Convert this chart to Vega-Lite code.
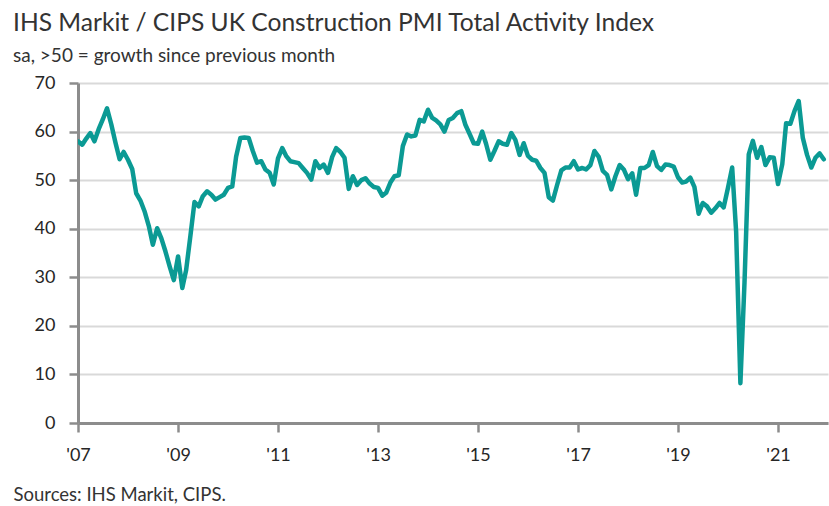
{
"$schema": "https://vega.github.io/schema/vega-lite/v6.json",
"width": 750, "height": 340,
"autosize": "none",
"padding": {"left": 78, "top": 83, "right": 1, "bottom": 83},
"background": "white",
"config": {"view": {"stroke": null}},
"title": {"text": "IHS Markit / CIPS UK Construction PMI Total Activity Index", "subtitle": "sa, >50 = growth since previous month", "anchor": "start", "frame": "group", "dx": -65, "offset": 7, "font": "Lato", "fontSize": 24.6, "fontWeight": "normal", "color": "#333333", "subtitleFont": "Lato", "subtitleFontSize": 19, "subtitleColor": "#333333", "subtitlePadding": 10},
"datasets": {"pmi": [
{"date":"2007-01-01","v":58.0},{"date":"2007-02-01","v":57.3},{"date":"2007-03-01","v":58.5},{"date":"2007-04-01","v":59.7},{"date":"2007-05-01","v":58.0},{"date":"2007-06-01","v":60.5},{"date":"2007-07-01","v":62.5},{"date":"2007-08-01","v":64.8},{"date":"2007-09-01","v":61.5},{"date":"2007-10-01","v":57.8},{"date":"2007-11-01","v":54.3},{"date":"2007-12-01","v":55.8},
{"date":"2008-01-01","v":54.2},{"date":"2008-02-01","v":52.3},{"date":"2008-03-01","v":47.3},{"date":"2008-04-01","v":45.8},{"date":"2008-05-01","v":43.6},{"date":"2008-06-01","v":40.6},{"date":"2008-07-01","v":36.7},{"date":"2008-08-01","v":40.1},{"date":"2008-09-01","v":38.0},{"date":"2008-10-01","v":35.3},{"date":"2008-11-01","v":32.2},{"date":"2008-12-01","v":29.4},
{"date":"2009-01-01","v":34.3},{"date":"2009-02-01","v":27.8},{"date":"2009-03-01","v":31.5},{"date":"2009-04-01","v":38.5},{"date":"2009-05-01","v":45.5},{"date":"2009-06-01","v":44.6},{"date":"2009-07-01","v":46.7},{"date":"2009-08-01","v":47.7},{"date":"2009-09-01","v":47.0},{"date":"2009-10-01","v":46.0},{"date":"2009-11-01","v":46.5},{"date":"2009-12-01","v":47.0},
{"date":"2010-01-01","v":48.4},{"date":"2010-02-01","v":48.7},{"date":"2010-03-01","v":54.8},{"date":"2010-04-01","v":58.7},{"date":"2010-05-01","v":58.8},{"date":"2010-06-01","v":58.7},{"date":"2010-07-01","v":56.0},{"date":"2010-08-01","v":53.6},{"date":"2010-09-01","v":53.9},{"date":"2010-10-01","v":52.2},{"date":"2010-11-01","v":51.5},{"date":"2010-12-01","v":49.1},
{"date":"2011-01-01","v":54.5},{"date":"2011-02-01","v":56.6},{"date":"2011-03-01","v":55.0},{"date":"2011-04-01","v":53.9},{"date":"2011-05-01","v":53.7},{"date":"2011-06-01","v":53.5},{"date":"2011-07-01","v":52.5},{"date":"2011-08-01","v":51.5},{"date":"2011-09-01","v":50.1},{"date":"2011-10-01","v":53.9},{"date":"2011-11-01","v":52.5},{"date":"2011-12-01","v":53.2},
{"date":"2012-01-01","v":51.5},{"date":"2012-02-01","v":54.8},{"date":"2012-03-01","v":56.6},{"date":"2012-04-01","v":55.8},{"date":"2012-05-01","v":54.6},{"date":"2012-06-01","v":48.2},{"date":"2012-07-01","v":50.8},{"date":"2012-08-01","v":49.0},{"date":"2012-09-01","v":50.0},{"date":"2012-10-01","v":50.4},{"date":"2012-11-01","v":49.3},{"date":"2012-12-01","v":48.6},
{"date":"2013-01-01","v":48.4},{"date":"2013-02-01","v":46.8},{"date":"2013-03-01","v":47.4},{"date":"2013-04-01","v":49.5},{"date":"2013-05-01","v":50.8},{"date":"2013-06-01","v":51.0},{"date":"2013-07-01","v":57.0},{"date":"2013-08-01","v":59.4},{"date":"2013-09-01","v":59.0},{"date":"2013-10-01","v":59.2},{"date":"2013-11-01","v":62.4},{"date":"2013-12-01","v":62.1},
{"date":"2014-01-01","v":64.5},{"date":"2014-02-01","v":62.8},{"date":"2014-03-01","v":62.3},{"date":"2014-04-01","v":61.5},{"date":"2014-05-01","v":60.0},{"date":"2014-06-01","v":62.4},{"date":"2014-07-01","v":62.8},{"date":"2014-08-01","v":63.8},{"date":"2014-09-01","v":64.2},{"date":"2014-10-01","v":61.4},{"date":"2014-11-01","v":59.5},{"date":"2014-12-01","v":57.6},
{"date":"2015-01-01","v":57.5},{"date":"2015-02-01","v":60.0},{"date":"2015-03-01","v":57.5},{"date":"2015-04-01","v":54.2},{"date":"2015-05-01","v":56.0},{"date":"2015-06-01","v":58.0},{"date":"2015-07-01","v":57.5},{"date":"2015-08-01","v":57.3},{"date":"2015-09-01","v":59.7},{"date":"2015-10-01","v":58.3},{"date":"2015-11-01","v":55.2},{"date":"2015-12-01","v":57.6},
{"date":"2016-01-01","v":55.0},{"date":"2016-02-01","v":54.2},{"date":"2016-03-01","v":54.0},{"date":"2016-04-01","v":52.5},{"date":"2016-05-01","v":51.5},{"date":"2016-06-01","v":46.5},{"date":"2016-07-01","v":45.8},{"date":"2016-08-01","v":49.0},{"date":"2016-09-01","v":52.0},{"date":"2016-10-01","v":52.6},{"date":"2016-11-01","v":52.6},{"date":"2016-12-01","v":53.9},
{"date":"2017-01-01","v":52.2},{"date":"2017-02-01","v":52.5},{"date":"2017-03-01","v":52.2},{"date":"2017-04-01","v":53.1},{"date":"2017-05-01","v":56.0},{"date":"2017-06-01","v":54.8},{"date":"2017-07-01","v":51.9},{"date":"2017-08-01","v":51.1},{"date":"2017-09-01","v":48.1},{"date":"2017-10-01","v":50.8},{"date":"2017-11-01","v":53.1},{"date":"2017-12-01","v":52.2},
{"date":"2018-01-01","v":50.2},{"date":"2018-02-01","v":51.4},{"date":"2018-03-01","v":47.0},{"date":"2018-04-01","v":52.5},{"date":"2018-05-01","v":52.5},{"date":"2018-06-01","v":53.1},{"date":"2018-07-01","v":55.8},{"date":"2018-08-01","v":52.9},{"date":"2018-09-01","v":52.1},{"date":"2018-10-01","v":53.2},{"date":"2018-11-01","v":53.1},{"date":"2018-12-01","v":52.8},
{"date":"2019-01-01","v":50.6},{"date":"2019-02-01","v":49.5},{"date":"2019-03-01","v":49.7},{"date":"2019-04-01","v":50.5},{"date":"2019-05-01","v":48.6},{"date":"2019-06-01","v":43.1},{"date":"2019-07-01","v":45.3},{"date":"2019-08-01","v":44.6},{"date":"2019-09-01","v":43.3},{"date":"2019-10-01","v":44.2},{"date":"2019-11-01","v":45.3},{"date":"2019-12-01","v":44.4},
{"date":"2020-01-01","v":48.4},{"date":"2020-02-01","v":52.6},{"date":"2020-03-01","v":39.3},{"date":"2020-04-01","v":8.2},{"date":"2020-05-01","v":28.9},{"date":"2020-06-01","v":55.3},{"date":"2020-07-01","v":58.1},{"date":"2020-08-01","v":54.6},{"date":"2020-09-01","v":56.8},{"date":"2020-10-01","v":53.1},{"date":"2020-11-01","v":54.7},{"date":"2020-12-01","v":54.6},
{"date":"2021-01-01","v":49.2},{"date":"2021-02-01","v":53.3},{"date":"2021-03-01","v":61.7},{"date":"2021-04-01","v":61.6},{"date":"2021-05-01","v":64.2},{"date":"2021-06-01","v":66.3},{"date":"2021-07-01","v":58.7},{"date":"2021-08-01","v":55.2},{"date":"2021-09-01","v":52.6},{"date":"2021-10-01","v":54.6},{"date":"2021-11-01","v":55.5},{"date":"2021-12-01","v":54.3}
]},
"data": {"name": "pmi"},
"mark": {"type": "line", "color": "#0b9a94", "strokeWidth": 4.5, "strokeJoin": "round", "strokeCap": "round", "clip": true},
"encoding": {
  "x": {"field": "date", "type": "temporal",
        "scale": {"type": "utc", "domain": [{"year": 2007, "month": 1, "date": 1, "utc": true}, {"year": 2022, "month": 1, "date": 1, "utc": true}]},
        "axis": {"values": [{"year": 2007, "month": 1, "date": 1, "utc": true}, {"year": 2009, "month": 1, "date": 1, "utc": true}, {"year": 2011, "month": 1, "date": 1, "utc": true}, {"year": 2013, "month": 1, "date": 1, "utc": true}, {"year": 2015, "month": 1, "date": 1, "utc": true}, {"year": 2017, "month": 1, "date": 1, "utc": true}, {"year": 2019, "month": 1, "date": 1, "utc": true}, {"year": 2021, "month": 1, "date": 1, "utc": true}],
                 "labelExpr": "\"'\" + utcFormat(datum.value, '%y')", "grid": false,
                 "domainColor": "#8c8c8c", "domainWidth": 3, "tickColor": "#8c8c8c", "tickWidth": 2.5, "tickSize": 9,
                 "labelFont": "Lato", "labelFontSize": 18, "labelColor": "#262626", "labelPadding": 14, "labelFlush": false,
                 "title": "Sources: IHS Markit, CIPS.", "titleFont": "Lato", "titleFontSize": 18.5, "titleFontWeight": "normal", "titleColor": "#333333",
                 "titleAnchor": "start", "titleAlign": "left", "titleBaseline": "alphabetic", "titleX": -65, "titleY": 77}},
  "y": {"field": "v", "type": "quantitative",
        "scale": {"domain": [0, 70], "nice": false, "zero": true},
        "axis": {"values": [0, 10, 20, 30, 40, 50, 60, 70], "title": null, "grid": true, "gridColor": "#d9d9d9", "gridWidth": 2,
                 "domainColor": "#8c8c8c", "domainWidth": 3, "tickColor": "#8c8c8c", "tickWidth": 2.5, "tickSize": 9,
                 "labelFont": "Lato", "labelFontSize": 18, "labelColor": "#262626", "labelPadding": 14}}
}
}
